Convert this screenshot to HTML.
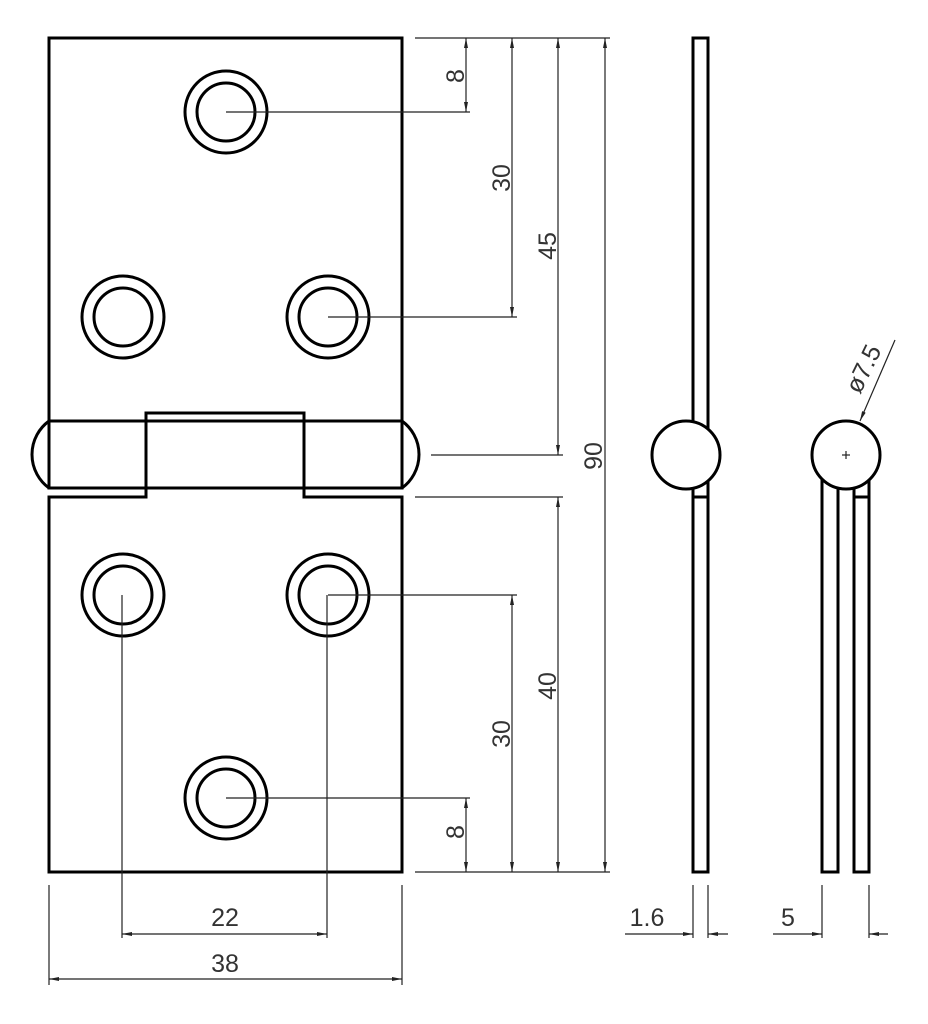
<!DOCTYPE html>
<html><head><meta charset="utf-8"><style>
html,body{margin:0;padding:0;background:#fff;}
svg{display:block;}
text{font-family:"Liberation Sans",sans-serif;font-size:25px;fill:#333;font-weight:normal;}
</style></head><body>
<svg width="928" height="1024" viewBox="0 0 928 1024" xmlns="http://www.w3.org/2000/svg">
<defs>
<marker id="a" viewBox="0 0 10 4" refX="10" refY="2" markerWidth="10" markerHeight="4" markerUnits="userSpaceOnUse" orient="auto-start-reverse"><path d="M0,0 L10,2 L0,4 Z" fill="#222"/></marker>
</defs>
<g fill="none" stroke="#000" stroke-width="3">
<path d="M49,421 L49,38 L402,38 L402,421"/>
<rect x="49" y="421" width="353" height="67"/>
<path d="M49,421 A41.5,41.5 0 0 0 49,488"/>
<path d="M402,421 A41.5,41.5 0 0 1 402,488"/>
<path d="M49,872 L49,497 L146,497 L146,413 L304,413 L304,497 L402,497 L402,872 Z"/>
<g>
<circle cx="226" cy="112" r="41"/><circle cx="226" cy="112" r="29"/>
<circle cx="123" cy="317" r="41"/><circle cx="123" cy="317" r="29"/>
<circle cx="328" cy="317" r="41"/><circle cx="328" cy="317" r="29"/>
<circle cx="123" cy="595" r="41"/><circle cx="123" cy="595" r="29"/>
<circle cx="328" cy="595" r="41"/><circle cx="328" cy="595" r="29"/>
<circle cx="226" cy="798" r="41"/><circle cx="226" cy="798" r="29"/>
</g>
<rect x="693" y="38" width="15" height="834"/>
<circle cx="686" cy="455" r="34" fill="#fff"/>
<line x1="693" y1="497" x2="708" y2="497"/>
<rect x="822" y="480" width="16" height="392"/>
<rect x="854" y="480" width="15" height="392"/>
<line x1="854" y1="497" x2="869" y2="497"/>
<circle cx="846" cy="455" r="34" fill="#fff"/>
</g>
<g fill="none" stroke="#222" stroke-width="1.2">
<line x1="415" y1="38" x2="610" y2="38"/>
<line x1="415" y1="872" x2="610" y2="872"/>
<line x1="415" y1="497" x2="563" y2="497"/>
<line x1="226" y1="112" x2="470" y2="112"/>
<line x1="328" y1="317" x2="517" y2="317"/>
<line x1="431" y1="455" x2="563" y2="455"/>
<line x1="328" y1="595" x2="517" y2="595"/>
<line x1="226" y1="798" x2="470" y2="798"/>
<line x1="466" y1="38" x2="466" y2="112" marker-start="url(#a)" marker-end="url(#a)"/>
<line x1="512" y1="38" x2="512" y2="317" marker-start="url(#a)" marker-end="url(#a)"/>
<line x1="558" y1="38" x2="558" y2="455" marker-start="url(#a)" marker-end="url(#a)"/>
<line x1="605" y1="38" x2="605" y2="872" marker-start="url(#a)" marker-end="url(#a)"/>
<line x1="558" y1="497" x2="558" y2="872" marker-start="url(#a)" marker-end="url(#a)"/>
<line x1="512" y1="595" x2="512" y2="872" marker-start="url(#a)" marker-end="url(#a)"/>
<line x1="466" y1="798" x2="466" y2="872" marker-start="url(#a)" marker-end="url(#a)"/>
<line x1="122" y1="595" x2="122" y2="938"/>
<line x1="327" y1="595" x2="327" y2="938"/>
<line x1="49" y1="885" x2="49" y2="985"/>
<line x1="402" y1="885" x2="402" y2="985"/>
<line x1="122" y1="934" x2="327" y2="934" marker-start="url(#a)" marker-end="url(#a)"/>
<line x1="49" y1="979" x2="402" y2="979" marker-start="url(#a)" marker-end="url(#a)"/>
<line x1="693" y1="885" x2="693" y2="938"/>
<line x1="708" y1="885" x2="708" y2="938"/>
<line x1="625" y1="934" x2="693" y2="934" marker-end="url(#a)"/>
<line x1="728" y1="934" x2="708" y2="934" marker-end="url(#a)"/>
<line x1="822" y1="885" x2="822" y2="938"/>
<line x1="869" y1="885" x2="869" y2="938"/>
<line x1="773" y1="934" x2="822" y2="934" marker-end="url(#a)"/>
<line x1="888" y1="934" x2="869" y2="934" marker-end="url(#a)"/>
<line x1="895" y1="340" x2="860" y2="421" marker-end="url(#a)"/>
<line x1="842" y1="455" x2="850" y2="455"/>
<line x1="846" y1="451" x2="846" y2="459"/>
</g>
<g>
<text transform="translate(464,76) rotate(-90)" text-anchor="middle">8</text>
<text transform="translate(510,178) rotate(-90)" text-anchor="middle">30</text>
<text transform="translate(556,246) rotate(-90)" text-anchor="middle">45</text>
<text transform="translate(602,456) rotate(-90)" text-anchor="middle">90</text>
<text transform="translate(556,686) rotate(-90)" text-anchor="middle">40</text>
<text transform="translate(510,734) rotate(-90)" text-anchor="middle">30</text>
<text transform="translate(464,832) rotate(-90)" text-anchor="middle">8</text>
<text x="225" y="926" text-anchor="middle">22</text>
<text x="225" y="972" text-anchor="middle">38</text>
<text x="647" y="926" text-anchor="middle">1.6</text>
<text x="788" y="926" text-anchor="middle">5</text>
<text transform="translate(860,395) rotate(-64)">ø7.5</text>
</g>
</svg>
</body></html>
